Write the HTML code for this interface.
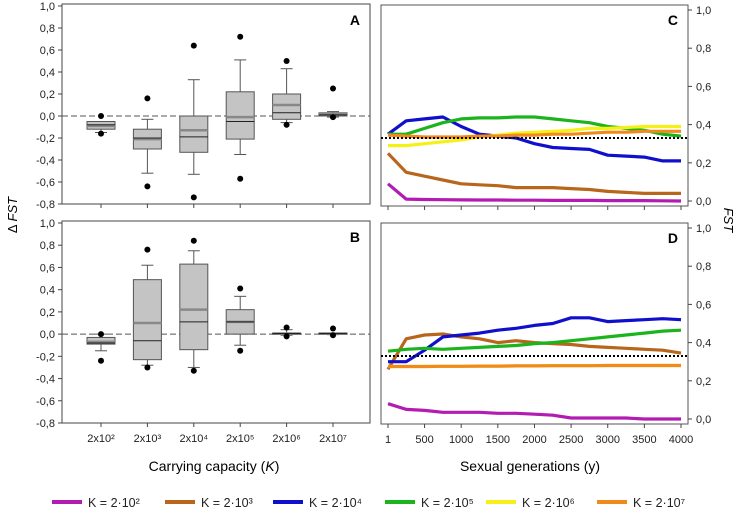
<!DOCTYPE html>
<html><head><meta charset="utf-8"><style>
html,body{margin:0;padding:0;background:#fff;}
svg{display:block;font-family:"Liberation Sans",Arial,sans-serif;}
</style></head><body>
<svg id="s" width="743" height="510" viewBox="0 0 743 510"></svg>
<script>
const NS="http://www.w3.org/2000/svg";
const svg=document.getElementById('s');
function el(tag,attrs,parent,text){const e=document.createElementNS(NS,tag);for(const k in attrs)e.setAttribute(k,attrs[k]);if(text!==undefined)e.textContent=text;(parent||svg).appendChild(e);return e;}

// ---- data ----
const categories=["2x10²","2x10³","2x10⁴","2x10⁵","2x10⁶","2x10⁷"];
const boxTicks=[1.0,0.8,0.6,0.4,0.2,0.0,-0.2,-0.4,-0.6,-0.8];
// [q1,q3,meanThick,median,whLo,whHi,outHi,outLo]
const boxA=[[-0.12,-0.05,-0.09,-0.08,-0.15,-0.05,0.0,-0.16],[-0.30,-0.12,-0.21,-0.20,-0.52,-0.03,0.16,-0.64],[-0.33,0.0,-0.13,-0.19,-0.53,0.33,0.64,-0.74],[-0.21,0.22,-0.01,-0.05,-0.35,0.51,0.72,-0.57],[-0.03,0.20,0.10,0.03,-0.06,0.43,0.50,-0.08],[0.0,0.03,0.02,0.01,-0.01,0.04,0.25,-0.01]];
const boxB=[[-0.09,-0.03,-0.07,-0.08,-0.15,0.0,0.0,-0.24],[-0.23,0.49,0.10,-0.06,-0.28,0.62,0.76,-0.30],[-0.14,0.63,0.22,0.11,-0.30,0.75,0.84,-0.33],[0.0,0.22,0.11,0.11,-0.10,0.34,0.41,-0.15],[0.0,0.01,0.005,0.005,-0.01,0.04,0.06,-0.02],[0.0,0.01,0.005,0.005,-0.005,0.01,0.05,-0.01]];
const gens=[1,250,500,750,1000,1250,1500,1750,2000,2250,2500,2750,3000,3250,3500,3750,4000];
const genTicks=[1,500,1000,1500,2000,2500,3000,3500,4000];
const fstTicks=[1.0,0.8,0.6,0.4,0.2,0.0];
const seriesNames=["K = 2·10²","K = 2·10³","K = 2·10⁴","K = 2·10⁵","K = 2·10⁶","K = 2·10⁷"];
const seriesColors=["#b21cb2","#b8661c","#1010cc","#1cb41c","#f5f018","#f08a1c"];
const C_k2=[0.09,0.01,0.008,0.007,0.006,0.005,0.005,0.004,0.004,0.003,0.003,0.003,0.002,0.002,0.002,0.001,0.0];
const C_k3=[0.25,0.15,0.13,0.11,0.09,0.085,0.08,0.07,0.07,0.07,0.065,0.06,0.05,0.045,0.04,0.04,0.04];
const C_k4=[0.35,0.42,0.43,0.44,0.39,0.35,0.34,0.33,0.30,0.28,0.275,0.27,0.24,0.235,0.23,0.21,0.21];
const C_k5=[0.35,0.35,0.38,0.41,0.43,0.435,0.435,0.44,0.44,0.43,0.42,0.41,0.39,0.38,0.37,0.35,0.34];
const C_k6=[0.29,0.29,0.30,0.31,0.32,0.335,0.345,0.355,0.36,0.365,0.37,0.38,0.38,0.385,0.39,0.39,0.39];
const C_k7=[0.345,0.34,0.335,0.335,0.335,0.34,0.34,0.345,0.345,0.35,0.35,0.355,0.36,0.36,0.365,0.365,0.365];
const D_k2=[0.08,0.05,0.045,0.035,0.035,0.035,0.03,0.03,0.025,0.02,0.005,0.005,0.005,0.005,0.0,0.0,0.0];
const D_k3=[0.26,0.42,0.44,0.445,0.43,0.42,0.40,0.41,0.40,0.395,0.39,0.38,0.375,0.37,0.365,0.36,0.345];
const D_k4=[0.30,0.30,0.36,0.43,0.44,0.45,0.465,0.475,0.49,0.50,0.53,0.53,0.51,0.515,0.52,0.525,0.52];
const D_k5=[0.355,0.365,0.37,0.365,0.37,0.375,0.38,0.385,0.395,0.40,0.41,0.42,0.43,0.44,0.45,0.46,0.465];
const D_k6=[0.275,0.275,0.275,0.276,0.276,0.277,0.277,0.278,0.278,0.279,0.279,0.279,0.28,0.28,0.28,0.28,0.28];
const D_k7=[0.275,0.275,0.275,0.276,0.276,0.277,0.277,0.278,0.278,0.279,0.279,0.279,0.28,0.28,0.28,0.28,0.28];
const refLine=0.33;

const fmt=v=>(v<0?"-":"")+Math.abs(v).toFixed(1).replace('.',',');

// ---- box panels ----
function boxPanel(name,letter,top,bot,data,showX){
  const g=el('g',{},svg);
  
  
  const L=62,R=370;
  const y=v=>bot-(v+0.8)/1.8*(bot-top);
  const x=i=>101+i*46.4;
  const fr=el('rect',{x:L,y:top-2,width:R-L,height:bot-top+2,fill:'none',stroke:'#444','stroke-width':1},g);
  
  boxTicks.forEach(t=>{
    el('line',{x1:L-4,x2:L,y1:y(t),y2:y(t),stroke:'#444'},g);
    const tx=el('text',{x:L-7,y:y(t)+4,'font-size':11,'text-anchor':'end',fill:'#222'},g,fmt(t));
    
  });
  const zl=el('line',{x1:L,x2:R,y1:y(0),y2:y(0),stroke:'#555','stroke-dasharray':'6,3'},g);
  
  data.forEach((d,i)=>{
    const cx=x(i),w=14;
    el('line',{x1:cx,x2:cx,y1:bot,y2:bot+4,stroke:'#444'},g);
    const bg=el('g',{},g);
    
    el('line',{x1:cx,x2:cx,y1:y(d[4]),y2:y(d[5]),stroke:'#555'},bg);
    el('line',{x1:cx-6,x2:cx+6,y1:y(d[4]),y2:y(d[4]),stroke:'#555'},bg);
    el('line',{x1:cx-6,x2:cx+6,y1:y(d[5]),y2:y(d[5]),stroke:'#555'},bg);
    el('rect',{x:cx-w,y:y(d[1]),width:2*w,height:Math.max(1.5,y(d[0])-y(d[1])),fill:'#c4c4c4',stroke:'#555'},bg);
    el('line',{x1:cx-w,x2:cx+w,y1:y(d[2]),y2:y(d[2]),stroke:'#888','stroke-width':2.5},bg);
    el('line',{x1:cx-w,x2:cx+w,y1:y(d[3]),y2:y(d[3]),stroke:'#222','stroke-width':1},bg);
    el('circle',{cx:cx,cy:y(d[6]),r:3,fill:'#000'},bg);
    el('circle',{cx:cx,cy:y(d[7]),r:3,fill:'#000'},bg);
    if(showX){const t=el('text',{x:cx,y:bot+19,'font-size':11,'text-anchor':'middle',fill:'#222'},g,categories[i]);
      }
  });
  const lt=el('text',{x:R-10,y:top+19,'font-size':14,'font-weight':'bold','text-anchor':'end'},g,letter);
  
}
boxPanel('a','A',6,204,boxA,false);
boxPanel('b','B',223,423,boxB,true);

// ---- line panels ----
function linePanel(name,letter,zeroY,series,showX){
  const g=el('g',{},svg);
  
  
  const L=381,R=688,per=191;
  const y=v=>zeroY-v*per;
  const x=v=>388+(v-1)/3999*293;
  const fr=el('rect',{x:L,y:y(1)-5,width:R-L,height:per+10,fill:'none',stroke:'#555'},g);
  
  fstTicks.forEach(t=>{
    el('line',{x1:R,x2:R+4,y1:y(t),y2:y(t),stroke:'#444'},g);
    const tx=el('text',{x:R+8,y:y(t)+4,'font-size':11,fill:'#222'},g,fmt(t));
    
  });
  genTicks.forEach(t=>{
    el('line',{x1:x(t),x2:x(t),y1:zeroY+5,y2:zeroY+9,stroke:'#444'},g);
    if(showX){const tx=el('text',{x:x(t),y:zeroY+24,'font-size':11,'text-anchor':'middle',fill:'#222'},g,String(t));
      }
  });
  series.forEach((s,k)=>{
    const p=el('polyline',{points:s.map((v,i)=>x(gens[i]).toFixed(1)+','+y(v).toFixed(1)).join(' '),fill:'none',stroke:seriesColors[k],'stroke-width':3.2,'stroke-linejoin':'round'},g);
    
  });
  const rl=el('line',{x1:L,x2:R,y1:y(refLine),y2:y(refLine),stroke:'#000','stroke-width':2,'stroke-dasharray':'2,2'},g);
  
  const lt=el('text',{x:R-10,y:y(1)+15,'font-size':14,'font-weight':'bold','text-anchor':'end'},g,letter);
  
}
linePanel('c','C',201,[C_k2,C_k3,C_k4,C_k5,C_k6,C_k7],false);
linePanel('d','D',419,[D_k2,D_k3,D_k4,D_k5,D_k6,D_k7],true);

// ---- axis titles ----
let t=el('text',{x:0,y:0,'font-size':13,transform:'translate(17,215) rotate(-90)','text-anchor':'middle'},svg);

t.innerHTML='Δ <tspan font-style="italic">FST</tspan>';
t=el('text',{x:0,y:0,'font-size':13,transform:'translate(724,220) rotate(90)','text-anchor':'middle','font-style':'italic'},svg,'FST');

t=el('text',{x:214,y:471,'font-size':14,'text-anchor':'middle'},svg);

t.innerHTML='Carrying capacity (<tspan font-style="italic">K</tspan>)';
t=el('text',{x:530,y:471,'font-size':14,'text-anchor':'middle'},svg,'Sexual generations (y)');


// ---- legend ----
const legX=[52,165,273,385,486,597];
seriesNames.forEach((n,k)=>{
  const g=el('g',{},svg);
  
  
  el('line',{x1:legX[k],x2:legX[k]+30,y1:502,y2:502,stroke:seriesColors[k],'stroke-width':4},g);
  el('text',{x:legX[k]+36,y:507,'font-size':12.5,fill:'#222'},g,n);
});
</script>
</body></html>
